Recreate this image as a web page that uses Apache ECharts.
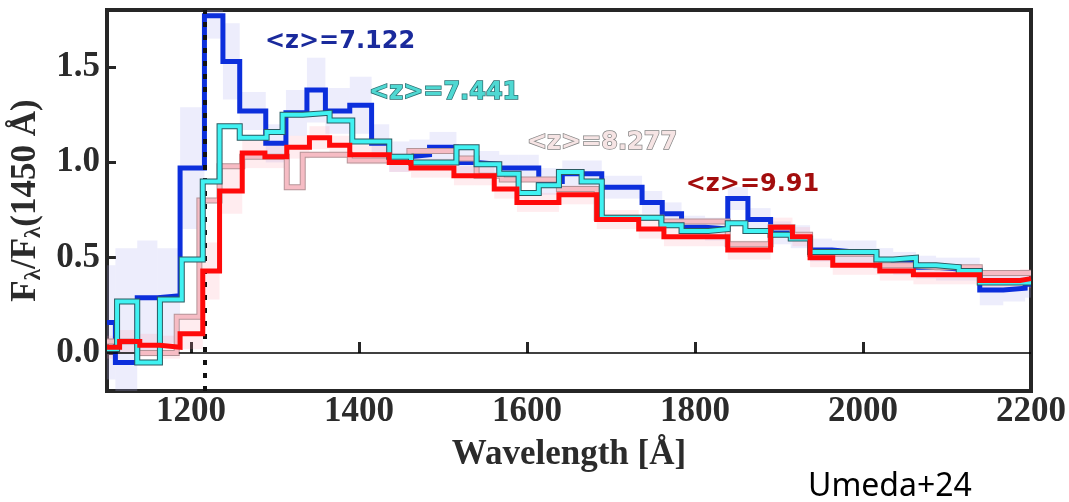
<!DOCTYPE html>
<html>
<head>
<meta charset="utf-8">
<script src="https://cdn.jsdelivr.net/npm/echarts@6/dist/echarts.min.js"></script>
<style>
  html, body { margin: 0; padding: 0; background: #fff; }
  #chart { width: 1069px; height: 502px; }
</style>
</head>
<body>
<div id="chart"></div>
<script>
// bin start wavelengths (Angstrom) and stacked flux for each redshift bin
var blueX = [1100,1110,1136,1160,1187,1216,1238,1258,1289,1313,1338,1360,1389,1415,1436,1460,1484,1516,1540,1567,1590,1614,1642,1665,1689,1713,1737,1761,1784,1812,1839,1863,1890,1914,1937,1963,1990,2016,2036,2063,2087,2114,2139,2167,2193];
var blueV = [0.16,-0.05,0.29,0.30,0.97,1.77,1.53,1.27,1.10,1.26,1.38,1.27,1.30,1.10,1.03,1.04,1.08,1.00,0.99,0.97,0.97,0.90,0.94,0.94,0.87,0.87,0.79,0.73,0.66,0.65,0.81,0.70,0.63,0.61,0.54,0.53,0.53,0.49,0.47,0.45,0.44,0.44,0.33,0.34,0.36];
var blueErr = [0.3,0.6,0.3,0.25,0.32,0.12,0.2,0.1,0.1,0.12,0.17,0.12,0.15,0.1,0.08,0.08,0.08,0.07,0.07,0.07,0.07,0.07,0.07,0.07,0.06,0.06,0.06,0.06,0.06,0.06,0.06,0.06,0.06,0.06,0.06,0.06,0.06,0.06,0.06,0.06,0.06,0.06,0.08,0.07,0.07];

var cyanX = [1100,1112,1136,1163,1189,1214,1234,1258,1290,1309,1333,1365,1392,1436,1462,1487,1516,1540,1567,1590,1614,1638,1665,1689,1713,1737,1760,1784,1816,1839,1860,1890,1914,1937,1963,1990,2016,2036,2063,2087,2114,2139,2167];
var cyanV = [0.02,0.27,-0.05,0.28,0.49,0.90,1.19,1.13,1.16,1.25,1.26,1.22,1.11,1.03,1.00,1.00,1.08,0.99,0.94,0.84,0.88,0.95,0.90,0.71,0.71,0.71,0.67,0.64,0.65,0.68,0.64,0.62,0.60,0.53,0.53,0.53,0.49,0.50,0.46,0.45,0.43,0.37,0.37];

var pinkX = [1100,1136,1183,1210,1234,1261,1314,1333,1389,1436,1460,1487,1516,1540,1570,1600,1638,1660,1683,1713,1760,1790,1816,1839,1865,1890,1916,1937,1964,1992,2016,2040,2060,2087,2114,2139,2163];
var pinkV = [0.06,0.00,0.19,0.80,0.98,1.03,0.87,1.04,1.01,1.01,1.06,1.06,1.02,0.93,0.91,0.91,0.86,0.86,0.71,0.71,0.69,0.69,0.69,0.57,0.57,0.66,0.62,0.52,0.52,0.52,0.46,0.46,0.45,0.45,0.45,0.42,0.42];

var redX = [1100,1115,1139,1163,1187,1214,1234,1261,1288,1314,1341,1365,1389,1412,1436,1462,1487,1513,1537,1561,1588,1613,1638,1660,1683,1708,1733,1763,1790,1815,1839,1865,1890,1916,1937,1964,1992,2020,2040,2060,2087,2114,2139,2163,2187];
var redV = [0.03,0.06,0.04,0.03,0.10,0.43,0.85,1.05,1.03,1.08,1.13,1.09,1.04,1.04,1.00,0.97,0.97,0.93,0.93,0.86,0.79,0.79,0.83,0.83,0.70,0.70,0.65,0.61,0.61,0.61,0.54,0.54,0.66,0.61,0.50,0.46,0.46,0.43,0.43,0.41,0.41,0.41,0.38,0.38,0.39];
var redErr = [0.06,0.06,0.06,0.06,0.08,0.15,0.12,0.08,0.06,0.06,0.06,0.05,0.05,0.05,0.05,0.05,0.05,0.05,0.05,0.05,0.05,0.05,0.05,0.05,0.05,0.05,0.05,0.05,0.05,0.05,0.05,0.05,0.05,0.05,0.05,0.05,0.05,0.05,0.05,0.05,0.05,0.05,0.05,0.05,0.05];

var xTicks = [1200, 1400, 1600, 1800, 2000, 2200];
var yTicks = [0, 0.5, 1.0, 1.5];
var lyaLine = 1216;

var labelText = ['<z>=7.122', '<z>=7.441', '<z>=8.277', '<z>=9.91'];
var labelPos = [[1288, 1.632], [1412, 1.364], [1600, 1.102], [1789, 0.881]];

var X_MAX = 2200;
var serif = '"Liberation Serif", "Times New Roman", serif';

function steps(xs, vs) {
    var d = xs.map(function (x, i) { return [x, vs[i]]; });
    d.push([X_MAX, vs[vs.length - 1]]);
    return d;
}
function bands(xs, vs, es) {
    return xs.map(function (x, i) {
        var x1 = i < xs.length - 1 ? xs[i + 1] : X_MAX;
        return [x, x1, vs[i] - es[i], vs[i] + es[i]];
    });
}
function bandSeries(data, color) {
    return {
        type: 'custom',
        clip: true,
        silent: true,
        z: 1,
        data: data,
        encode: { x: [0, 1], y: [2, 3] },
        renderItem: function (params, api) {
            var p0 = api.coord([api.value(0), api.value(3)]);
            var p1 = api.coord([api.value(1), api.value(2)]);
            return {
                type: 'rect',
                shape: { x: p0[0], y: p0[1], width: p1[0] - p0[0], height: p1[1] - p0[1] },
                style: { fill: color }
            };
        }
    };
}
function stepLine(xs, vs, color, width, z) {
    return {
        type: 'line',
        step: 'end',
        data: steps(xs, vs),
        showSymbol: false,
        silent: true,
        z: z,
        lineStyle: { color: color, width: width, join: 'miter', cap: 'butt' }
    };
}

var labelStyles = [
    { fill: '#1a2a9c' },
    { fill: '#4fd8d2', stroke: '#2c6f72', lineWidth: 1.5 },
    { fill: '#f6e4e4', stroke: '#858585', lineWidth: 1.5 },
    { fill: '#a30d0d' }
];

var chart = echarts.init(document.getElementById('chart'));

var series = [
    bandSeries(bands(blueX, blueV, blueErr), 'rgba(175,175,240,0.22)'),
    bandSeries(bands(redX, redV, redErr), 'rgba(255,150,165,0.18)'),
    stepLine(blueX, blueV, '#0c2fdc', 5, 3),
    stepLine(pinkX, pinkV, '#b59498', 6, 4),
    stepLine(pinkX, pinkV, '#f6bcc4', 4, 5),
    stepLine(cyanX, cyanV, '#2a5a60', 6, 6),
    stepLine(cyanX, cyanV, '#40f2f2', 4, 7),
    stepLine(redX, redV, '#ff0a0a', 5, 8),
    {
        type: 'line',
        data: [],
        z: 2,
        markLine: {
            silent: true,
            symbol: 'none',
            label: { show: false },
            data: [
                { yAxis: 0, lineStyle: { color: '#000', width: 1.5, type: 'solid' } },
                { xAxis: lyaLine, lineStyle: { color: '#111', width: 4, type: [5, 8] } }
            ]
        }
    }
];

var option = {
    animation: false,
    backgroundColor: '#fff',
    grid: {
        left: 107, right: 36, top: 10, bottom: 111,
        show: true, borderColor: '#262626', borderWidth: 4, backgroundColor: 'transparent'
    },
    xAxis: {
        type: 'value',
        min: 1100, max: 2200,
        name: 'Wavelength [Å]',
        nameLocation: 'middle',
        nameGap: 46,
        nameTextStyle: { fontFamily: serif, fontWeight: 'bold', fontSize: 35, color: '#2b2b2b' },
        axisLine: { show: false },
        splitLine: { show: false },
        axisTick: {
            inside: true, length: 11, customValues: xTicks,
            lineStyle: { color: '#262626', width: 3 }
        },
        axisLabel: {
            customValues: xTicks, margin: 3,
            formatter: function (v) { return String(v); },
            fontFamily: serif, fontWeight: 'bold', fontSize: 35, color: '#2b2b2b'
        }
    },
    yAxis: {
        type: 'value',
        min: -0.2, max: 1.8,
        name: '{m|F}{s|λ}{m|/F}{s|λ}{m|(1450 Å)}',
        nameLocation: 'middle',
        nameGap: 51,
        nameTextStyle: {
            rich: {
                m: { fontFamily: serif, fontWeight: 'bold', fontSize: 35, color: '#2b2b2b', lineHeight: 38 },
                s: { fontFamily: serif, fontWeight: 'bold', fontSize: 23, color: '#2b2b2b', lineHeight: 22, verticalAlign: 'bottom' }
            }
        },
        axisLine: { show: false },
        splitLine: { show: false },
        axisTick: {
            inside: true, length: 9, customValues: yTicks,
            lineStyle: { color: '#262626', width: 3 }
        },
        axisLabel: {
            customValues: yTicks, margin: 7,
            formatter: function (v) { return v.toFixed(1); },
            fontFamily: serif, fontWeight: 'bold', fontSize: 35, color: '#2b2b2b'
        }
    },
    series: series
};
chart.setOption(option);

// redshift labels, anchored in data coordinates
var graphics = labelPos.map(function (p, i) {
    var px = chart.convertToPixel({ gridIndex: 0 }, p);
    return {
        type: 'text',
        x: px[0],
        y: px[1],
        z: 100,
        style: Object.assign({
            text: labelText[i],
            font: 'bold 24px "DejaVu Sans", Verdana, sans-serif',
            verticalAlign: 'middle',
            align: 'left'
        }, labelStyles[i])
    };
});
graphics.push({
    type: 'text',
    left: 808,
    top: 471,
    style: {
        text: 'Umeda+24',
        font: '32px "Noto Sans", "Open Sans", sans-serif',
        fill: '#000'
    }
});
chart.setOption({ graphic: graphics });
</script>
</body>
</html>
